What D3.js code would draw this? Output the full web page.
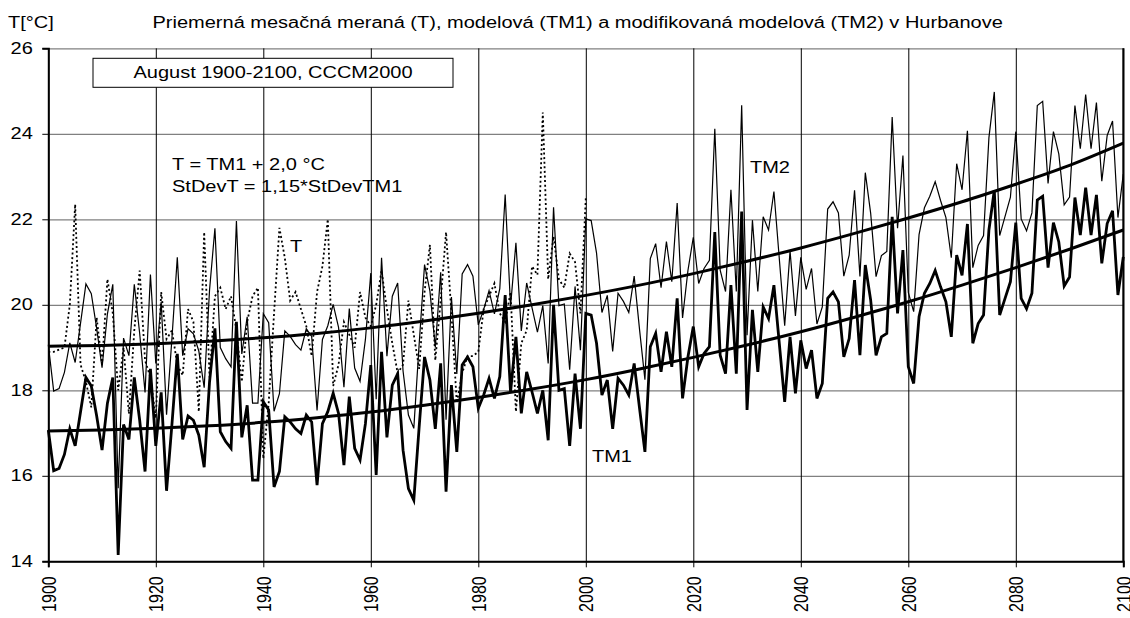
<!DOCTYPE html>
<html>
<head>
<meta charset="utf-8">
<script src="https://cdn.jsdelivr.net/npm/d3@7"></script>
<style>
body{margin:0;background:#fff}
svg text{font-family:"Liberation Sans",Arial,sans-serif;fill:#000;font-size:16px}
</style>
</head>
<body>
<svg id="chart" width="1130" height="618"></svg>
<script>
// --- data ---
var startYear = 1900
var tm1Values = [
17.07,16.12,16.17,16.5,17.1,16.7,17.5,18.3,18.1,17.4,
16.6,17.7,18.3,14.15,17.2,16.85,18.3,17.3,16.1,18.5,
16.7,17.95,15.65,17.2,18.85,16.85,17.4,17.3,16.95,16.2,
18.2,19.45,17.03,16.8,16.64,19.6,16.9,17.65,15.9,15.9,
17.73,17.54,15.74,16.1,17.38,17.26,17.1,16.99,17.42,17.26,
15.78,17.22,17.5,17.93,17.46,16.25,17.85,16.64,16.37,17.22,
18.59,16.02,18.9,16.9,18.12,18.39,16.6,15.7,15.43,17.15,
18.78,18.24,17.1,18.63,15.63,18.12,16.56,18.59,18.78,18.55,
17.58,17.89,18.28,17.81,18.32,20.23,17.96,19.25,17.46,18.43,
17.96,17.46,18.0,16.83,20.0,18.0,18.04,16.7,18.39,17.1,
19.8,19.76,19.1,17.89,18.24,17.1,18.28,18.12,17.89,18.63,
17.58,16.56,19.02,19.33,18.43,19.37,18.55,20.15,17.81,18.78,
19.49,18.55,18.86,19.02,21.7,18.82,18.39,20.46,18.39,22.18,
17.54,19.88,18.43,19.95,19.68,20.46,19.1,17.73,19.25,17.93,
19.17,18.51,18.94,17.81,18.16,20.15,20.3,20.07,18.78,19.21,
20.58,18.82,20.93,20.11,18.82,19.25,19.33,22.06,19.8,21.28,
18.55,18.16,19.72,20.27,20.5,20.8,20.42,20.07,19.25,21.16,
20.69,21.89,19.1,19.56,19.76,21.75,22.68,19.76,20.15,20.54,
21.92,20.15,19.91,20.27,22.45,22.54,20.87,21.92,21.47,20.44,
20.65,22.51,21.63,22.74,21.63,22.57,20.97,21.9,22.2,20.23,
21.12]

var tm2Values = [
19.07,17.98,18.04,18.42,19.11,18.65,19.57,20.49,20.26,19.45,
18.53,19.79,20.48,15.71,19.22,18.81,20.48,19.33,17.95,20.71,
18.63,20.07,17.43,19.21,21.11,18.81,19.44,19.32,18.92,18.06,
20.35,21.79,19.0,18.74,18.55,21.96,18.85,19.72,17.7,17.7,
19.79,19.58,17.51,17.92,19.39,19.26,19.07,18.94,19.44,19.26,
17.53,19.19,19.51,20.01,19.47,18.07,19.91,18.52,18.21,19.19,
20.74,17.79,21.1,18.8,20.2,20.51,18.45,17.42,17.11,19.09,
20.94,20.32,19.0,20.76,17.31,20.18,18.38,20.72,20.94,20.67,
19.53,19.89,20.33,19.79,20.38,22.58,19.96,21.45,19.39,20.51,
19.93,19.36,19.98,18.63,22.28,19.98,20.02,18.48,20.43,18.94,
22.01,21.97,21.21,19.82,20.22,18.91,20.27,20.08,19.82,20.67,
19.42,18.25,21.08,21.43,20.4,21.48,20.54,22.38,19.69,20.8,
21.58,20.5,20.85,21.04,24.12,20.81,20.31,22.69,20.31,24.67,
19.29,21.98,20.31,22.06,21.75,22.65,21.08,19.51,21.26,19.74,
21.11,20.36,20.85,19.55,19.95,22.24,22.41,22.15,20.67,21.16,
22.68,20.66,23.09,22.14,20.66,21.15,21.25,24.39,21.79,23.49,
20.29,19.84,21.64,22.27,22.54,22.88,22.44,22.04,21.1,23.3,
22.69,24.07,20.87,21.39,21.62,23.91,24.98,21.62,22.07,22.52,
24.05,22.01,21.73,22.15,24.66,24.76,22.84,24.05,23.53,22.34,
22.52,24.66,23.65,24.92,23.65,24.73,22.89,23.96,24.3,22.04,
23.06]

// measured T, 1900-2000
var tValues = [
18.9,18.9,18.95,19.0,20.0,22.35,18.6,18.2,17.6,19.7,
18.6,20.6,19.8,18.0,19.0,17.45,19.4,20.8,18.7,18.3,
17.35,20.3,19.2,19.4,18.6,18.35,19.9,19.6,17.5,21.7,
18.3,20.2,20.4,19.9,20.2,19.4,18.2,19.6,20.2,20.4,
16.4,17.7,19.8,21.8,21.1,20.1,20.3,19.9,19.5,18.8,
20.3,20.9,22.0,18.1,18.6,19.6,19.3,19.0,20.3,19.7,
19.5,20.0,20.8,19.9,19.1,18.4,18.6,20.1,19.3,18.5,
20.3,21.4,18.7,20.1,21.7,19.8,17.7,18.4,18.8,18.8,
18.9,19.9,20.2,20.5,19.8,19.6,20.3,17.5,19.1,19.4,
20.9,20.7,24.5,20.6,21.6,20.6,20.4,21.2,21.0,19.8,
22.5]

// polynomial trends (read every 10 years)
var trendYears = [1900,1910,1920,1930,1940,1950,1960,1970,1980,1990,2000,2010,2020,2030,2040,2050,2060,2070,2080,2090,2100]
var trendTM1 = [17.05,17.07,17.11,17.17,17.25,17.36,17.49,17.65,17.83,18.03,18.25,18.50,18.77,19.06,19.37,19.71,20.07,20.46,20.87,21.30,21.75]
var trendTM2 = [19.03,19.05,19.09,19.15,19.23,19.33,19.46,19.62,19.80,20.00,20.22,20.46,20.73,21.02,21.33,21.67,22.03,22.41,22.82,23.26,23.78]

var yTicks = [14,16,18,20,22,24,26]
var xTicks = [1900,1920,1940,1960,1980,2000,2020,2040,2060,2080,2100]

var titleText = "Priemerná mesačná meraná (T), modelová (TM1) a modifikovaná modelová (TM2) v Hurbanove"
var boxText = "August 1900-2100, CCCM2000"
var noteLines = ["T = TM1 + 2,0 °C","StDevT = 1,15*StDevTM1"]

//---plot geometry---
var plotLeft=48.3, plotRight=1123.3, plotTop=48.3, plotBottom=561.3
var stretch=1.25   // the picture's lettering is wider than it is tall

var xScale = d3.scaleLinear()
    .domain([1900, 2100])
    .range([plotLeft, plotRight])

var yScale = d3.scaleLinear()
    .domain([14, 26])
    .range([plotBottom, plotTop])

var svg = d3.select("#chart")

svg.append("rect")
 .attr("width",1130)
 .attr("height",618)
 .attr("fill","white")

// horizontal gridlines
svg.append("g")
    .attr("transform","translate("+plotLeft+",0)")
    .call(d3.axisLeft(yScale).tickValues(yTicks).tickSize(-(plotRight-plotLeft)).tickFormat(""))
    .call(function(g){ g.select(".domain").remove() })
    .selectAll("line")
    .attr("stroke","#808080")
    .attr("stroke-width",1.2)

// vertical gridlines
svg.append("g")
    .attr("transform","translate(0,"+plotBottom+")")
    .call(d3.axisBottom(xScale).tickValues(xTicks).tickSize(-(plotBottom-plotTop)).tickFormat(""))
    .call(function(g){ g.select(".domain").remove() })
    .selectAll("line")
    .attr("stroke","#000")
    .attr("stroke-width",1)

//--series lines--
function seriesPoints(vals){
  return vals.map(function(v,i){ return [startYear+i, v] })
}

var line = d3.line()
    .x(function(d){ return xScale(d[0]) })
    .y(function(d){ return yScale(d[1]) })

svg.append("path")
    .datum(seriesPoints(tValues))
    .attr("fill","none")
    .attr("stroke","#000")
    .attr("stroke-width",1.8)
    .attr("stroke-dasharray","2,2.6")
    .attr("d",line)

svg.append("path")
    .datum(seriesPoints(tm2Values))
    .attr("fill","none")
    .attr("stroke","#000")
    .attr("stroke-width",1.2)
    .attr("d",line)

svg.append("path")
    .datum(seriesPoints(tm1Values))
    .attr("fill","none")
    .attr("stroke","#000")
    .attr("stroke-width",2.8)
    .attr("d",line)

var trendLine = d3.line()
    .x(function(d,i){ return xScale(trendYears[i]) })
    .y(function(d){ return yScale(d) })
    .curve(d3.curveNatural)

svg.append("path")
    .datum(trendTM1)
    .attr("fill","none")
    .attr("stroke","#000")
    .attr("stroke-width",3)
    .attr("d",trendLine)

svg.append("path")
    .datum(trendTM2)
    .attr("fill","none")
    .attr("stroke","#000")
    .attr("stroke-width",3)
    .attr("d",trendLine)

//--axes--
var yAxis = svg.append("g")
    .attr("transform","translate("+plotLeft+",0)")
    .call(d3.axisLeft(yScale).tickValues(yTicks).tickSize(6).tickPadding(9.5))
yAxis.select(".domain").attr("stroke","#000").attr("stroke-width",2)
yAxis.selectAll(".tick line").attr("stroke","#000")
yAxis.selectAll("text")
    .attr("font-size",null)
    .style("font-size","16px")
    .attr("x",-15.5/stretch)
    .attr("transform","scale("+stretch+",1)")

var xAxis = svg.append("g")
    .attr("transform","translate(0,"+plotBottom+")")
    .call(d3.axisBottom(xScale).tickValues(xTicks).tickSize(6).tickFormat(d3.format("d")))
xAxis.select(".domain").attr("stroke","#000").attr("stroke-width",2)
xAxis.selectAll(".tick line").attr("stroke","#000")
xAxis.selectAll("text")
    .style("font-size","16px")
    .attr("text-anchor","end")
    .attr("transform","scale("+stretch+",1) rotate(-90)")
    .attr("x",-15)
    .attr("y",0)
    .attr("dy","0.35em")

// right frame
svg.append("line")
 .attr("x1",plotRight).attr("x2",plotRight)
 .attr("y1",plotTop).attr("y2",plotBottom)
 .attr("stroke","#000")
 .attr("stroke-width",2)

//--texts--
function addText(x,y,str,anchor){
  return svg.append("text")
    .attr("transform","translate("+x+","+y+") scale("+stretch+",1)")
    .attr("text-anchor",anchor||"start")
    .text(str)
}

addText(8,28,"T[°C]")
addText(152.5,27.5,titleText)

svg.append("rect")
    .attr("x",93).attr("y",58.3)
    .attr("width",360).attr("height",29)
    .attr("fill","white")
    .attr("stroke","#000")
    .attr("stroke-width",1)

addText(273,78,boxText,"middle")

noteLines.forEach(function(d,i){
  addText(172,170+i*22,d)
})

addText(290,252,"T")
addText(592,462,"TM1")
addText(750,173,"TM2")
</script>
</body>
</html>
